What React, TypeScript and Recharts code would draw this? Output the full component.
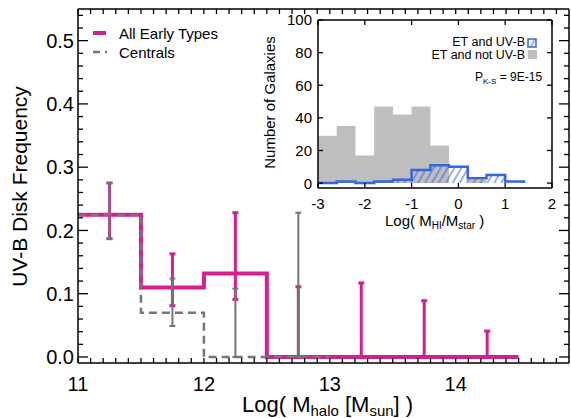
import React from 'react';
import { ComposedChart, Line, Area, Scatter, ErrorBar, XAxis, YAxis } from 'recharts';

// ---------- Main panel data ----------
const haloBinEdges = [11, 11.5, 12, 12.5, 13, 13.5, 14, 14.5];
const allEarlyFreq = [0.225, 0.11, 0.132, 0, 0, 0, 0];
const centralsBinEdges = [11, 11.5, 12, 12.5, 13];
const centralsFreq = [0.225, 0.07, 0, 0];

const allEarlyErrX = [11.25, 11.75, 12.25, 12.75, 13.25, 13.75, 14.25];
const allEarlyLow = [0.187, 0.081, 0.091, 0, 0, 0, 0];
const allEarlyHigh = [0.275, 0.163, 0.228, 0.111, 0.117, 0.089, 0.041];

const centralsErrX = [11.25, 11.75, 12.25, 12.75];
const centralsLow = [0.187, 0.049, 0, 0];
const centralsHigh = [0.275, 0.124, 0.108, 0.228];

const xMajorTicks = [11, 12, 13, 14];
const xTickLabels = ['11', '12', '13', '14'];
const yMajorTicks = [0, 0.1, 0.2, 0.3, 0.4, 0.5];
const yTickLabels = ['0.0', '0.1', '0.2', '0.3', '0.4', '0.5'];

// ---------- Inset data ----------
const gasBinEdges = [-3, -2.6, -2.2, -1.8, -1.4, -1.0, -0.6, -0.2, 0.2, 0.6, 1.0, 1.4];
const etNotUvbCounts = [29, 35, 17, 47, 42, 47, 23, 0, 2, 0, 0];
const etUvbCounts = [0, 1, 0, 1, 2, 8, 11, 10, 3, 5, 1];
const insetXTicks = [-3, -2, -1, 0, 1, 2];
const insetXLabels = ['-3', '-2', '-1', '0', '1', '2'];
const insetYTicks = [0, 20, 40, 60, 80, 100];
const insetYLabels = ['0', '20', '40', '60', '80', '100'];

const MAGENTA = '#D4208E';
const GRAY = '#767676';
const BLUE = '#3466E0';
const FILLGRAY = '#BEBEBE';
const FONT = '"Liberation Sans", Arial, Helvetica, sans-serif';

const stepData = (edges: number[], vals: number[]) =>
  edges.map((x, i) => ({ x, y: i < vals.length ? vals[i] : vals[vals.length - 1] }));

const errData = (xs: number[], vals: number[], lo: number[], hi: number[]) =>
  xs.map((x, i) => ({ x, y: vals[i], err: [vals[i] - lo[i], hi[i] - vals[i]] }));

const allEarlyStep = stepData(haloBinEdges, allEarlyFreq);
const centralsStep = stepData(centralsBinEdges, centralsFreq);
const allEarlyErr = errData(allEarlyErrX, allEarlyFreq, allEarlyLow, allEarlyHigh);
const centralsErr = errData(centralsErrX, centralsFreq, centralsLow, centralsHigh);
const notUvbStep = stepData(gasBinEdges, [...etNotUvbCounts, 0]);
const uvbStep = stepData(gasBinEdges, [...etUvbCounts, 0]);

const range = (start: number, step: number, n: number, dec: number) =>
  Array.from({ length: n }, (_, i) => +(start + i * step).toFixed(dec));
const xAllTicks = range(11, 0.1, 39, 1);
const yAllTicks = range(0, 0.02, 28, 2);

const findLabel = (v: number, ticks: number[], labels: string[]) => {
  const i = ticks.findIndex((t) => Math.abs(t - v) < 1e-6);
  return i >= 0 ? labels[i] : null;
};

type Side = 'bottom' | 'top' | 'left' | 'right';
function makeTick(
  side: Side,
  majors: number[],
  labels: string[] | null,
  majorLen: number,
  minorLen: number,
  fontSize: number,
  offset: number,
) {
  return (props: any) => {
    const { x, y, payload } = props;
    const v = payload.value;
    const lbl = findLabel(v, majors, labels || majors.map(String));
    const isMajor = lbl !== null;
    const len = isMajor ? majorLen : minorLen;
    let x2 = x;
    let y2 = y;
    if (side === 'bottom') y2 = y - len;
    if (side === 'top') y2 = y + len;
    if (side === 'left') x2 = x + len;
    if (side === 'right') x2 = x - len;
    return (
      <g>
        <line x1={x} y1={y} x2={x2} y2={y2} stroke="#000" strokeWidth={1.3} />
        {labels && isMajor && side === 'bottom' && (
          <text x={x} y={y + offset} textAnchor="middle" fontSize={fontSize} fontFamily={FONT} fill="#000">
            {lbl}
          </text>
        )}
        {labels && isMajor && side === 'left' && (
          <text x={x - offset} y={y + fontSize * 0.36} textAnchor="end" fontSize={fontSize} fontFamily={FONT} fill="#000">
            {lbl}
          </text>
        )}
      </g>
    );
  };
}

const HiddenDot = () => <g />;

export default function App() {
  return (
    <div style={{ position: 'absolute', left: 0, top: 0, width: 571, height: 418, background: '#fff' }}>
      <div style={{ position: 'absolute', left: 0, top: 0 }}>
        <ComposedChart width={571} height={418} margin={{ top: 8, right: 1, bottom: 25, left: 0 }}>
          <XAxis xAxisId="b" dataKey="x" type="number" domain={[11, 14.9]} allowDataOverflow ticks={xAllTicks} interval={0}
            orientation="bottom" height={30} tickSize={0} tickMargin={0} tickLine={false}
            axisLine={{ stroke: '#000', strokeWidth: 1.5 }}
            tick={makeTick('bottom', xMajorTicks, xTickLabels, 5, 5, 20, 28)} />
          <XAxis xAxisId="t" dataKey="x" type="number" domain={[11, 14.9]} allowDataOverflow ticks={xAllTicks} interval={0}
            orientation="top" height={1} tickSize={0} tickMargin={0} tickLine={false}
            axisLine={{ stroke: '#000', strokeWidth: 1.5 }}
            tick={makeTick('top', xMajorTicks, null, 5, 5, 20, 0)} />
          <YAxis yAxisId="l" type="number" domain={[-0.0095, 0.55]} allowDataOverflow ticks={yAllTicks} interval={0}
            orientation="left" width={78} tickSize={0} tickMargin={0} tickLine={false}
            axisLine={{ stroke: '#000', strokeWidth: 1.5 }}
            tick={makeTick('left', yMajorTicks, yTickLabels, 10, 5, 20, 4)} />
          <YAxis yAxisId="r" type="number" domain={[-0.0095, 0.55]} allowDataOverflow ticks={yAllTicks} interval={0}
            orientation="right" width={1} tickSize={0} tickMargin={0} tickLine={false}
            axisLine={{ stroke: '#000', strokeWidth: 1.5 }}
            tick={makeTick('right', yMajorTicks, null, 10, 5, 20, 0)} />

          <Line xAxisId="t" yAxisId="r" data={allEarlyStep} dataKey="y" type="stepAfter" stroke="none"
            dot={false} activeDot={false} isAnimationActive={false} />
          <Line xAxisId="b" yAxisId="l" data={allEarlyStep} dataKey="y" type="stepAfter" stroke={MAGENTA}
            strokeWidth={4} dot={false} activeDot={false} isAnimationActive={false} />
          <Line xAxisId="b" yAxisId="l" data={centralsStep} dataKey="y" type="stepAfter" stroke={GRAY}
            strokeWidth={2.5} strokeDasharray="8 5" dot={false} activeDot={false} isAnimationActive={false} />
          <Scatter xAxisId="b" yAxisId="l" data={allEarlyErr} dataKey="y" shape={HiddenDot} isAnimationActive={false}>
            <ErrorBar dataKey="err" direction="y" width={3} stroke={MAGENTA} strokeWidth={3} isAnimationActive={false} />
          </Scatter>
          <Scatter xAxisId="b" yAxisId="l" data={centralsErr} dataKey="y" shape={HiddenDot} isAnimationActive={false}>
            <ErrorBar dataKey="err" direction="y" width={3} stroke={GRAY} strokeWidth={2} isAnimationActive={false} />
          </Scatter>
        </ComposedChart>
      </div>

      <div style={{ position: 'absolute', left: 318, top: 20, width: 234, height: 168, background: '#fff' }} />

      <div style={{ position: 'absolute', left: 250, top: 0 }}>
        <ComposedChart width={320} height={240} margin={{ top: 19, right: 17, bottom: 22, left: 0 }}>
          <XAxis xAxisId="b" dataKey="x" type="number" domain={[-3, 2]} allowDataOverflow ticks={insetXTicks} interval={0}
            orientation="bottom" height={30} tickSize={0} tickMargin={0} tickLine={false}
            axisLine={{ stroke: '#000', strokeWidth: 1.5 }}
            tick={makeTick('bottom', insetXTicks, insetXLabels, 5, 5, 15, 21)} />
          <XAxis xAxisId="t" dataKey="x" type="number" domain={[-3, 2]} allowDataOverflow ticks={insetXTicks} interval={0}
            orientation="top" height={1} tickSize={0} tickMargin={0} tickLine={false}
            axisLine={{ stroke: '#000', strokeWidth: 1.5 }}
            tick={makeTick('top', insetXTicks, null, 5, 5, 15, 0)} />
          <YAxis yAxisId="l" type="number" domain={[-3, 100]} allowDataOverflow ticks={insetYTicks} interval={0}
            orientation="left" width={68} tickSize={0} tickMargin={0} tickLine={false}
            axisLine={{ stroke: '#000', strokeWidth: 1.5 }}
            tick={makeTick('left', insetYTicks, insetYLabels, 5, 5, 15, 6)} />
          <YAxis yAxisId="r" type="number" domain={[-3, 100]} allowDataOverflow ticks={insetYTicks} interval={0}
            orientation="right" width={1} tickSize={0} tickMargin={0} tickLine={false}
            axisLine={{ stroke: '#000', strokeWidth: 1.5 }}
            tick={makeTick('right', insetYTicks, null, 5, 5, 15, 0)} />
          <Line xAxisId="t" yAxisId="r" data={notUvbStep} dataKey="y" type="stepAfter" stroke="none"
            dot={false} activeDot={false} isAnimationActive={false} />
          <Area xAxisId="b" yAxisId="l" data={notUvbStep} dataKey="y" type="stepAfter" fill={FILLGRAY}
            fillOpacity={1} stroke="none" dot={false} activeDot={false} isAnimationActive={false} />
          <Area xAxisId="b" yAxisId="l" data={uvbStep} dataKey="y" type="stepAfter" fill="url(#hatchBlue)"
            fillOpacity={1} stroke={BLUE} strokeWidth={2.5} dot={false} activeDot={false} isAnimationActive={false} />
        </ComposedChart>
      </div>

      <svg width={571} height={418} style={{ position: 'absolute', left: 0, top: 0, pointerEvents: 'none' }}>
        <defs>
          <pattern id="hatchBlue" patternUnits="userSpaceOnUse" width={6} height={6} patternTransform="rotate(30)">
            <line x1={3} y1={0} x2={3} y2={6} stroke={BLUE} strokeWidth={1} />
          </pattern>
        </defs>
        {/* Main legend */}
        <line x1={93} y1={33} x2={106} y2={33} stroke={MAGENTA} strokeWidth={4} />
        <text x={119} y={38.5} fontSize={15} fontFamily={FONT} fill="#000">All Early Types</text>
        <line x1={93} y1={52} x2={107} y2={52} stroke={GRAY} strokeWidth={2.5} strokeDasharray="7 5" />
        <text x={119} y={57.5} fontSize={15} fontFamily={FONT} fill="#000">Centrals</text>

        {/* Main axis titles */}
        <text transform="translate(27,186.5) rotate(-90)" textAnchor="middle" fontSize={21} fontFamily={FONT} fill="#000">
          UV-B Disk Frequency
        </text>
        <text x={242} y={411.5} fontSize={22} fontFamily={FONT} fill="#000">
          Log( M<tspan fontSize={15} dy={4}>halo</tspan>
          <tspan dy={-4}> [M</tspan>
          <tspan fontSize={15} dy={4}>sun</tspan>
          <tspan dy={-4}>] )</tspan>
        </text>

        {/* Inset titles */}
        <text transform="translate(275,102.5) rotate(-90)" textAnchor="middle" fontSize={15} fontFamily={FONT} fill="#000">
          Number of Galaxies
        </text>
        <text x={385} y={226} fontSize={15} fontFamily={FONT} fill="#000">
          Log( M<tspan fontSize={10} dy={3}>HI</tspan>
          <tspan dy={-3}>/M</tspan>
          <tspan fontSize={10} dy={3}>star</tspan>
          <tspan dy={-3}> )</tspan>
        </text>

        {/* Inset legend */}
        <text x={525} y={45.5} textAnchor="end" fontSize={12.5} fontFamily={FONT} fill="#000">ET and UV-B</text>
        <rect x={528} y={39} width={8} height={8} fill="url(#hatchBlue)" stroke={BLUE} strokeWidth={1.5} />
        <text x={525} y={59} textAnchor="end" fontSize={12.5} fontFamily={FONT} fill="#000">ET and not UV-B</text>
        <rect x={528} y={50} width={9} height={9} fill={FILLGRAY} />
        <text x={475} y={80.5} fontSize={12} fontFamily={FONT} fill="#000">
          P<tspan fontSize={8} dy={3}>K-S</tspan>
          <tspan dy={-3}> = 9E-15</tspan>
        </text>
      </svg>
    </div>
  );
}
